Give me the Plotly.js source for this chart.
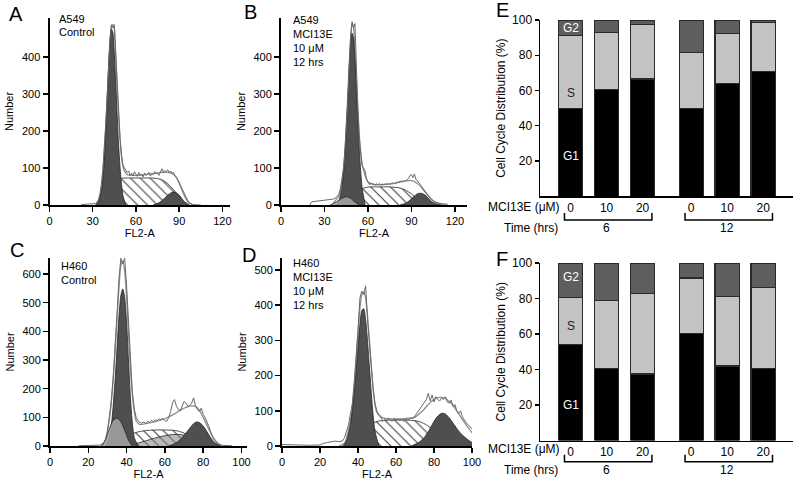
<!DOCTYPE html>
<html><head><meta charset="utf-8">
<script src="https://cdn.plot.ly/plotly-3.0.1.min.js"></script>
<style>html,body{margin:0;padding:0;background:#fff}#chart{width:800px;height:481px}</style>
</head><body><div id="chart"></div>
<script>
// ---------- Panel A : A549 control ----------
const rawA_x = [22,26,30,31,32,33,34,35,36,37,38,39,40,41,42,43,44,45,46,47,48,49,50,51,52,53,54,55,56,57,58,59,60,61,62,63,64,65,66,67,68,69,70,71,72,73,74,75,76,77,78,79,80,81,82,83,84,85,86,87,88,89,90,91,92,93,94,95,96,97,98,99,100,105];
const rawA_y = [1,2,2,3,4,8,15,30,55,95,150,215,290,370,445,487,478,487,405,320,240,180,135,108,100,95,88,92,80,86,78,90,82,77,88,80,84,76,86,80,83,88,78,85,82,90,84,86,80,92,98,88,93,90,95,88,92,86,88,80,74,70,62,52,44,35,25,18,12,7,4,2,1,0];
const fitA_x = [32,34,36,38,40,42,43,44,45,46,47,48,49,50,51,52,54,58,62,66,70,74,78,82,85,88,91,94,97,100];
const fitA_y = [0,10,45,140,285,445,482,487,475,395,315,235,175,130,103,92,82,80,80,82,84,86,88,88,85,75,50,22,5,0];
const g1A_x = [32,34,36,37.5,39,40,41,42,43,44,45,46,47,48,49,50,51,53];
const g1A_y = [0,8,35,90,190,280,370,440,475,465,410,330,240,160,100,55,25,0];
const sA_x = [34,38,42,46,50,55,60,65,70,74,78,82,86,90,93,96];
const sA_y = [0,15,40,62,72,73,73,73,73,72,68,58,42,22,8,0];
const g2A_x = [72,76,79,82,84,86,88,90,92,94,97];
const g2A_y = [0,6,15,26,32,35,33,27,17,8,0];

// ---------- Panel B : A549 MCI13E 10 uM 12 hrs ----------
const rawB_x = [20,21,22,24,26,28,30,32,34,36,38,40,41,42,43,44,45,46,47,48,49,50,51,52,53,54,55,56,57,58,59,60,61,62,63,64,65,66,67,68,69,70,71,72,73,74,75,76,77,78,79,80,81,82,83,84,85,86,87,88,89,90,91,92,93,94,95,96,97,98,99,100,101,102,103,104,105,106,107,108,109,110,112,115];
const rawB_y = [0,8,9,10,10,11,12,12,14,16,20,30,45,65,95,140,200,280,370,455,495,478,490,350,260,180,130,105,100,92,70,60,55,60,56,58,54,57,55,58,53,56,54,57,55,58,56,58,60,57,61,60,63,62,65,62,66,64,68,72,80,82,74,84,70,66,62,56,50,44,38,32,27,22,18,14,10,8,6,5,4,4,3,2];
const fitB_x = [36,40,42,44,46,47,48,49,50,51,52,53,54,55,56,58,60,64,68,72,76,80,84,88,90,92,95,98,101,104,107,110,114];
const fitB_y = [5,25,60,140,290,375,445,490,480,420,340,260,190,140,110,80,62,55,55,56,57,60,64,66,66,63,55,42,28,15,7,2,0];
const g1B_x = [38,40,42,43,44,45,46,47,48,49,50,51,52,53,54,55,56,58];
const g1B_y = [0,12,45,80,130,195,275,360,430,464,450,390,310,225,150,90,45,0];
const sB_x = [42,46,50,54,58,62,66,70,74,78,82,86,90,94,98,101];
const sB_y = [0,12,28,40,47,49,49,49,49,48,46,40,30,17,5,0];
const g2B_x = [82,86,89,92,94,96,98,100,102,104,107,110];
const g2B_y = [0,5,13,24,30,32,30,25,17,9,3,0];
const lowB_x = [34,38,42,45,48,51,54];
const lowB_y = [0,8,18,22,18,8,0];

// ---------- Panel C : H460 control ----------
const rawC_x = [15,20,24,26,28,29,30,31,32,33,34,35,36,37,38,39,40,41,42,43,44,45,46,47,48,49,50,51,52,53,54,55,56,57,58,59,60,61,62,63,64,65,66,67,68,69,70,71,72,73,74,75,76,77,78,79,80,81,82,83,84,85,86,87,88,89,90,95];
const rawC_y = [1,1,2,3,10,25,50,95,155,240,340,460,580,655,635,655,560,420,290,190,130,100,88,82,80,84,78,86,82,90,85,92,88,95,92,96,88,86,100,120,150,162,140,128,122,140,155,150,138,142,150,168,140,128,120,132,110,100,85,68,48,30,20,12,7,4,2,1];
const fitC_x = [27,29,31,32,33,34,35,36,37,38,39,40,41,42,43,44,45,47,50,55,60,65,68,71,74,76,78,80,82,84,86,88,90];
const fitC_y = [0,22,92,150,230,330,440,550,630,645,610,520,390,270,180,120,88,75,78,85,95,112,125,135,140,138,125,100,72,45,22,8,0];
const g1C_x = [29,31,32,33,34,35,36,37,38,39,40,41,42,43,44,46];
const g1C_y = [0,30,70,140,230,340,450,525,548,520,430,300,170,80,30,0];
const sC_x = [36,40,44,48,52,56,60,64,67,70,73,76,79,82,84];
const sC_y = [0,25,45,52,55,56,56,55,52,45,35,22,11,3,0];
const midC_x = [40,45,50,55,60,64,68,72,76,80,84];
const midC_y = [0,8,18,28,36,40,40,34,22,10,0];
const g2C_x = [62,65,68,71,73,75,76.5,78,80,82,84,86,89];
const g2C_y = [0,8,22,45,62,78,84,82,70,50,28,12,0];
const lowC_x = [27,29,31,33,35,37,39,41,43];
const lowC_y = [0,20,60,90,97,85,55,20,0];

// ---------- Panel D : H460 MCI13E 10 uM 12 hrs ----------
const rawD_x = [0,5,10,15,20,22,24,26,28,30,32,33,34,35,36,37,38,39,40,41,42,43,44,45,46,47,48,49,50,51,52,53,54,55,56,57,58,59,60,61,62,63,64,65,66,67,68,69,70,71,72,73,74,75,76,77,78,79,80,81,82,83,84,85,86,87,88,89,90,91,92,93,94,95,96,97,98,99,100,101,102];
const rawD_y = [4,3,2,2,3,8,10,12,14,12,15,25,40,60,90,120,180,250,330,420,440,430,455,360,290,220,160,120,98,90,84,70,76,72,80,74,70,78,73,76,72,75,70,77,73,76,80,78,86,92,100,110,118,125,132,150,128,145,125,140,132,128,136,132,140,125,122,130,112,118,100,92,100,82,72,66,60,55,48,42,38];
const fitD_x = [30,33,35,37,38,39,40,41,42,43,44,45,46,47,48,49,50,52,55,60,65,70,74,77,80,83,86,89,92,95,98,101];
const fitD_y = [0,8,45,110,170,240,320,390,430,438,420,370,300,225,160,115,95,82,78,77,78,82,100,118,132,138,135,122,100,75,52,32];
const g1D_x = [32,34,36,37,38,39,40,41,42,43,44,45,46,47,48,49,51];
const g1D_y = [0,15,60,100,150,210,280,345,385,390,360,300,225,150,85,40,0];
const sD_x = [34,38,42,46,50,55,60,65,70,73,76,79,82,85,88,91,94];
const sD_y = [0,15,35,58,70,73,74,74,72,68,60,48,35,22,11,4,0];
const g2D_x = [68,72,75,78,80,82,84,86,88,90,92,94,96,98,100,102,105];
const g2D_y = [0,10,25,50,70,85,93,91,80,65,50,36,26,17,10,5,0];

// ---------- Panels E / F : cell cycle distribution (%) ----------
const timeHrs = [6,6,6,12,12,12];
const doseUM = [0,10,20,0,10,20];
const eG1 = [50,60.5,66.5,50,64,71];
const eS  = [41,32.5,31,31.5,28.5,27.5];
const eG2 = [9,7,2.5,18.5,7.5,1.5];
const fG1 = [54,40.5,37.5,60.5,42,40.5];
const fS  = [26.5,38.5,45.5,31,39,45.5];
const fG2 = [19.5,21,17,8.5,19,14];

// ---------- build ----------
const FONT = 'Liberation Sans, Arial, Helvetica, sans-serif';
const traces = [];
function curve(xa, ya, xs, ys, opts) {
  const t = {x: xs, y: ys, xaxis: xa, yaxis: ya, type: 'scatter', mode: 'lines',
    hoverinfo: 'skip', showlegend: false,
    line: {color: opts.line || '#222', width: opts.lw || 0.8, shape: 'spline', smoothing: 0.6}};
  if (opts.fill) { t.fill = 'tozeroy'; t.fillcolor = opts.fill; }
  if (opts.pattern) { t.fillpattern = {shape: '\\', bgcolor: '#ffffff', fgcolor: '#3c3c3c', size: 7, solidity: 0.15}; }
  if (opts.raw) { t.line.shape = 'linear'; }
  traces.push(t);
}
function histPanel(xa, ya, raw, fit, s, g1, g2, extra) {
  curve(xa, ya, fit[0], fit[1], {fill: '#ffffff', line: '#8c8c8c', lw: 1.3});
  curve(xa, ya, s[0], s[1], {fill: '#ffffff', pattern: true});
  if (extra.mid) curve(xa, ya, extra.mid[0], extra.mid[1], {fill: 'rgba(130,130,130,0.55)'});
  curve(xa, ya, g1[0], g1[1], {fill: '#4f4f4f'});
  curve(xa, ya, g2[0], g2[1], {fill: '#4f4f4f'});
  if (extra.low) curve(xa, ya, extra.low[0], extra.low[1], {fill: 'rgba(165,165,165,0.85)'});
  curve(xa, ya, raw[0], raw[1], {line: '#6a6a6a', lw: 1, raw: true});
}
histPanel('x', 'y', [rawA_x, rawA_y], [fitA_x, fitA_y], [sA_x, sA_y], [g1A_x, g1A_y], [g2A_x, g2A_y], {});
histPanel('x2', 'y2', [rawB_x, rawB_y], [fitB_x, fitB_y], [sB_x, sB_y], [g1B_x, g1B_y], [g2B_x, g2B_y], {low: [lowB_x, lowB_y]});
histPanel('x3', 'y3', [rawC_x, rawC_y], [fitC_x, fitC_y], [sC_x, sC_y], [g1C_x, g1C_y], [g2C_x, g2C_y], {low: [lowC_x, lowC_y], mid: [midC_x, midC_y]});
histPanel('x4', 'y4', [rawD_x, rawD_y], [fitD_x, fitD_y], [sD_x, sD_y], [g1D_x, g1D_y], [g2D_x, g2D_y], {});

// bar positions derived from the groups (time) and dose order
const groups = [...new Set(timeHrs)];
const barX = timeHrs.map((t, i) => groups.indexOf(t) * 3.35 + (i % 3));
function barPanel(xa, ya, g1, s, g2) {
  const common = {x: barX, xaxis: xa, yaxis: ya, type: 'bar', width: 0.67, hoverinfo: 'skip', showlegend: false};
  traces.push(Object.assign({}, common, {y: g1, marker: {color: '#000000', line: {color: '#2a2a2a', width: 1.2}}}));
  traces.push(Object.assign({}, common, {y: s, marker: {color: '#c3c3c3', line: {color: '#2a2a2a', width: 1.2}}}));
  traces.push(Object.assign({}, common, {y: g2, marker: {color: '#5e5e5e', line: {color: '#2a2a2a', width: 1.2}}}));
}
barPanel('x5', 'y5', eG1, eS, eG2);
barPanel('x6', 'y6', fG1, fS, fG2);

const W = 800, H = 481;
const px = v => v / W, py = v => 1 - v / H;

function hx(dom, range, tv, anchor) {
  return {domain: dom, range: range, anchor: anchor, tickvals: tv, showline: true, linecolor: '#000', linewidth: 1.5,
    ticks: 'outside', ticklen: 5, tickwidth: 1.5, tickcolor: '#000', showgrid: false, zeroline: false,
    tickfont: {size: 11, color: '#000'}, title: {text: 'FL2-A', font: {size: 11, color: '#000'}, standoff: 3}};
}
function hy(dom, range, tv, anchor) {
  return {domain: dom, range: range, anchor: anchor, tickvals: tv, showline: true, linecolor: '#000', linewidth: 2,
    ticks: 'outside', ticklen: 5, tickwidth: 1.5, tickcolor: '#000', showgrid: false, zeroline: false,
    tickfont: {size: 11, color: '#000'}, title: {text: 'Number', font: {size: 11, color: '#000'}, standoff: 6}};
}
function bx(dom, anchor) {
  return {domain: dom, range: [-0.85, 6.18], anchor: anchor, tickvals: barX, ticktext: doseUM.map(String),
    showline: true, linecolor: '#000', linewidth: 1.5, ticks: '', showgrid: false, zeroline: false,
    tickfont: {size: 12, color: '#000'}};
}
function by(dom, anchor) {
  return {domain: dom, range: [0, 100], anchor: anchor, tickvals: [20, 40, 60, 80, 100], showline: true,
    linecolor: '#000', linewidth: 1.5, ticks: 'outside', ticklen: 4, tickwidth: 1.2, tickcolor: '#000',
    showgrid: false, zeroline: false, tickfont: {size: 12, color: '#000'},
    title: {text: 'Cell Cycle Distribution (%)', font: {size: 12, color: '#000'}, standoff: 4}};
}

const yTopDom = [py(205), py(18)];
const yBotDom = [py(446), py(258)];
const layout = {
  width: W, height: H, margin: {l: 0, r: 0, t: 0, b: 0}, paper_bgcolor: '#fff', plot_bgcolor: 'rgba(0,0,0,0)',
  font: {family: FONT, color: '#000', size: 11}, showlegend: false, barmode: 'stack', bargap: 0,
  xaxis: hx([px(49.5), px(230)], [0, 125.3], [0, 30, 60, 90, 120], 'y'),
  yaxis: hy(yTopDom, [0, 505], [0, 100, 200, 300, 400], 'x'),
  xaxis2: hx([px(281), px(467)], [0, 128.3], [0, 30, 60, 90, 120], 'y2'),
  yaxis2: hy(yTopDom, [0, 505], [0, 100, 200, 300, 400], 'x2'),
  xaxis3: hx([px(50), px(247)], [0, 102.9], [0, 20, 40, 60, 80, 100], 'y3'),
  yaxis3: hy(yBotDom, [0, 656], [0, 100, 200, 300, 400, 500, 600], 'x3'),
  xaxis4: hx([px(282), px(472)], [0, 100], [0, 20, 40, 60, 80, 100], 'y4'),
  yaxis4: hy(yBotDom, [0, 534], [0, 100, 200, 300, 400, 500], 'x4'),
  xaxis5: bx([px(540), px(793)], 'y5'),
  yaxis5: by([py(196.3), py(20)], 'x5'),
  xaxis6: bx([px(540), px(793)], 'y6'),
  yaxis6: by([py(440.5), py(263)], 'x6'),
  annotations: [], shapes: []
};
const A = layout.annotations;
function txt(text, x, y, size, opts) {
  A.push(Object.assign({text: text, x: x, y: y, xref: 'paper', yref: 'paper', showarrow: false,
    font: {size: size, color: '#000', family: FONT}, xanchor: 'left', yanchor: 'middle'}, opts || {}));
}
// panel letters
[['A', 7, 14], ['B', 242, 12], ['C', 8, 250], ['D', 240, 255], ['E', 494, 10], ['F', 494, 259]].forEach(l =>
  txt(l[0], px(l[1]), py(l[2]), 20));
// histogram captions
txt('A549', px(57), py(19), 11); txt('Control', px(57), py(32), 11);
['A549', 'MCI13E', '10 μM', '12 hrs'].forEach((s, i) => txt(s, px(291), py(20 + 14 * i), 11));
txt('H460', px(59), py(266), 11); txt('Control', px(59), py(280), 11);
['H460', 'MCI13E', '10 μM', '12 hrs'].forEach((s, i) => txt(s, px(291), py(263 + 14 * i), 11));

// bar panel labels
function barLabels(xa, ya, yG2, yS, yG1, yAx, yBr, yTime) {
  A.push({text: 'G2', x: barX[0], y: yG2, xref: xa, yref: ya, showarrow: false, font: {size: 12, color: '#fff'}});
  A.push({text: 'S', x: barX[0], y: yS, xref: xa, yref: ya, showarrow: false, font: {size: 12, color: '#222'}});
  A.push({text: 'G1', x: barX[0], y: yG1, xref: xa, yref: ya, showarrow: false, font: {size: 12, color: '#fff'}});
  txt('MCI13E (μM)', px(562), py(yAx), 12, {xanchor: 'right'});
  txt('Time (hrs)', px(560), py(yTime), 12, {xanchor: 'right'});
  groups.forEach((g, gi) => {
    const xs = barX.filter((_, i) => timeHrs[i] === g);
    const x0 = xs[0] - 0.17, x1 = xs[xs.length - 1] + 0.26;
    layout.shapes.push({type: 'path', xref: xa, yref: 'paper',
      path: `M ${x0} ${py(yBr - 7)} L ${x0} ${py(yBr)} L ${x1} ${py(yBr)} L ${x1} ${py(yBr - 7)}`,
      line: {color: '#000', width: 1.5}});
    A.push({text: String(g), x: (xs[0] + xs[xs.length - 1]) / 2, y: py(yTime), xref: xa, yref: 'paper',
      showarrow: false, font: {size: 12, color: '#000'}, yanchor: 'middle'});
  });
}
barLabels('x5', 'y5', 95.5, 58.6, 23, 207, 220, 228);
barLabels('x6', 'y6', 92, 64.5, 20, 449, 461.7, 470);

Plotly.newPlot('chart', traces, layout, {staticPlot: true, displayModeBar: false});
</script></body></html>
